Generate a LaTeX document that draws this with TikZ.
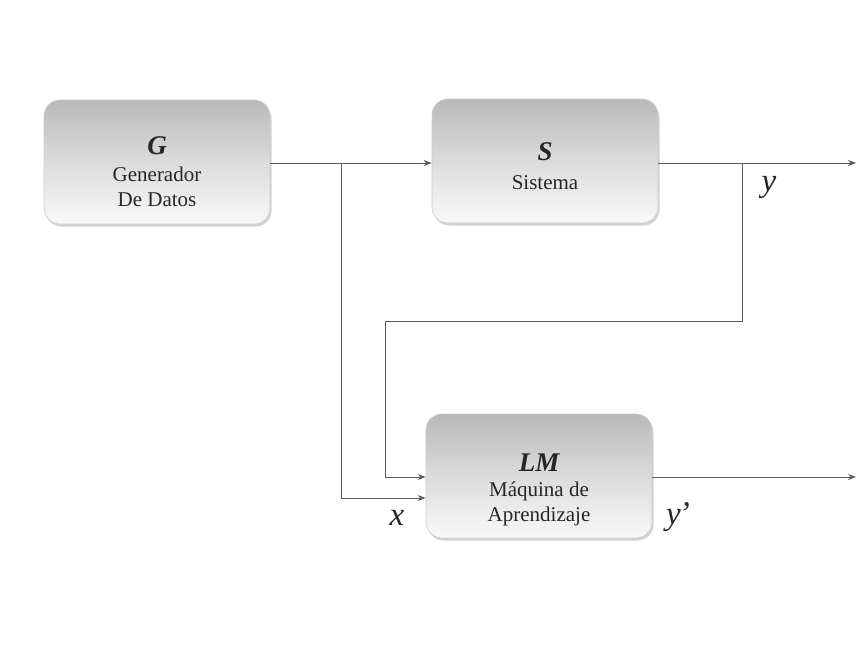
\documentclass[tikz,border=0pt]{standalone}
\usepackage{fontspec}
\setmainfont{Liberation Serif}
\usetikzlibrary{arrows.meta,shadows}
\definecolor{linec}{HTML}{5A5A5A}
\tikzset{
  blk/.style={rounded corners=16pt, draw=gray!40, line width=0.6pt,
    top color=gray!55, bottom color=gray!5, middle color=gray!28,
    drop shadow={shadow xshift=1.5pt, shadow yshift=-2.5pt, opacity=0.35},
    minimum width=226pt, minimum height=124pt, inner sep=0pt},
  blktext/.style={align=center, inner sep=0pt,
    font=\fontsize{21}{25}\selectfont, text=black!85},
  conn/.style={draw=linec, line width=1pt},
  arr/.style={conn, -{Stealth[length=8pt,width=6pt]}},
  var/.style={font=\fontsize{33}{34}\selectfont\itshape, text=black!85}
}
\newcommand{\blktitle}[1]{{\itshape\bfseries\fontsize{27}{30}\selectfont #1}}
\begin{document}
\begin{tikzpicture}[x=1pt,y=-1pt]
\useasboundingbox[fill=white] (0,0) rectangle (861,649);
\node[blk] (G) at (157,162) {};
\node[blk] (S) at (545,161) {};
\node[blk] (LM) at (539,476) {};
\node[blktext] (Gt) at ([yshift=-10pt]G.center) {\blktitle{G}\\[2pt]Generador\\De Datos};
\node[blktext] (St) at ([yshift=-5pt]S.center) {\blktitle{S}\\[4pt]Sistema};
\node[blktext] (LMt) at ([yshift=-14pt]LM.center) {\blktitle{LM}\\[0pt]Máquina de\\Aprendizaje};
\coordinate (j1) at (341,163);
\coordinate (j2) at (742,163);
\coordinate (yend) at (856,163);
\coordinate (lmend) at (856,477);
\draw[arr] (G.east |- j1) -- (S.west |- j1);
\draw[arr] (j1) -- (341,498) -- (LM.west |- 0,498);
\draw[arr] (S.east |- j2) -- (yend);
\draw[arr] (j2) -- (742,321) -- (385,321) -- (385,477) -- (LM.west |- 0,477);
\draw[arr] (LM.east |- lmend) -- (lmend);
\node[var] (ylab) at (769,187) {y};
\node[var] (yplab) at (678,517) {y\kern-2pt’};
\node[var] (xlab) at (397,518) {x};
\end{tikzpicture}
\end{document}
